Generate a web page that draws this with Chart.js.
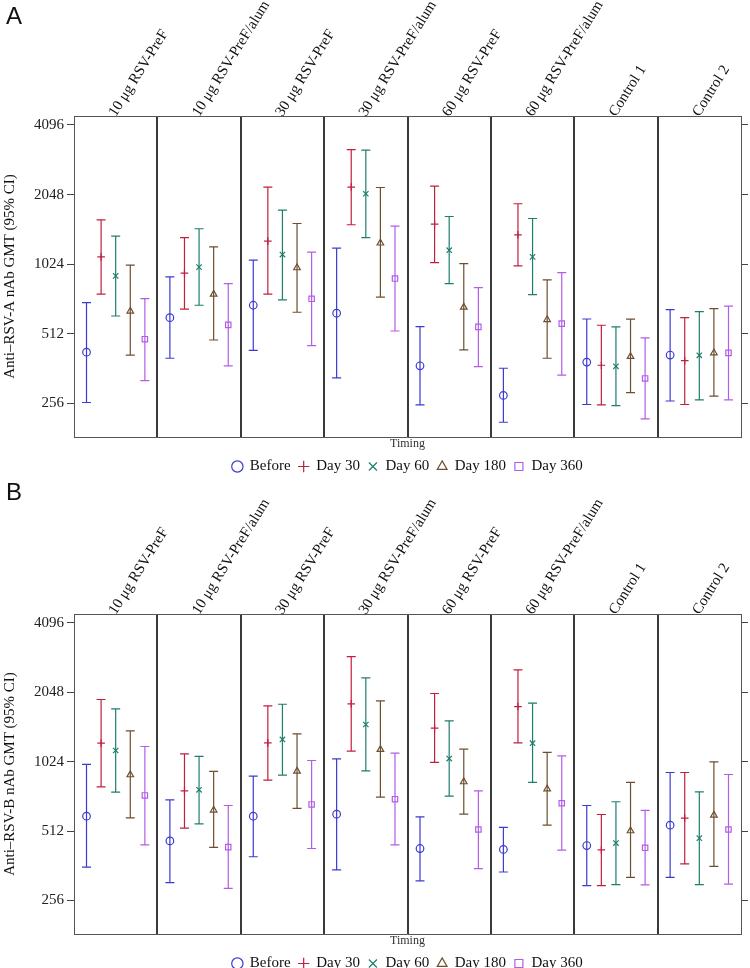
<!DOCTYPE html>
<html>
<head>
<meta charset="utf-8">
<script src="https://cdn.jsdelivr.net/npm/chart.js@4"></script>
<style>
  html, body { margin: 0; padding: 0; background: #fff; overflow: hidden; }
  .panel { position: absolute; left: 0; width: 750px; }
  .tag { position: absolute; left: 6px; font: 24px "Liberation Sans", Arial, sans-serif; color: #111; }
</style>
</head>
<body>
<div class="panel" style="top:0"><canvas id="chartA" width="750" height="484"></canvas></div>
<div class="panel" style="top:480px"><canvas id="chartB" width="750" height="501"></canvas></div>
<div class="tag" style="top:2px">A</div>
<div class="tag" style="top:478px">B</div>
<script>
const groups = ['10 μg RSV-PreF', '10 μg RSV-PreF/alum', '30 μg RSV-PreF', '30 μg RSV-PreF/alum',
                '60 μg RSV-PreF', '60 μg RSV-PreF/alum', 'Control 1', 'Control 2'];
const timepoints = ['Before', 'Day 30', 'Day 60', 'Day 180', 'Day 360'];
const tickValues = [256, 512, 1024, 2048, 4096];

// rows follow timepoints, columns follow groups
const gmtA = [
  [426, 601, 680, 628, 372, 277, 386, 414],
  [1101, 936, 1288, 2207, 1526, 1372, 374, 392],
  [911, 994, 1127, 2065, 1177, 1101, 370, 413],
  [641, 759, 987, 1263, 667, 589, 408, 423],
  [485, 559, 725, 887, 548, 566, 328, 423]
];
const loA = [
  [258, 401, 434, 330, 252, 212, 253, 262],
  [759, 654, 759, 1516, 1040, 1007, 252, 253],
  [611, 680, 717, 1335, 844, 756, 250, 265],
  [414, 481, 634, 737, 436, 401, 285, 275],
  [321, 372, 455, 526, 369, 339, 219, 265]
];
const hiA = [
  [698, 902, 1066, 1201, 550, 363, 593, 651],
  [1592, 1335, 2207, 3202, 2229, 1869, 557, 601],
  [1354, 1457, 1754, 3192, 1646, 1614, 548, 638],
  [1014, 1217, 1535, 2198, 1030, 875, 592, 658],
  [727, 844, 1154, 1496, 811, 942, 491, 674]
];
const gmtB = [
  [594, 464, 594, 606, 430, 426, 443, 543],
  [1232, 765, 1236, 1824, 1431, 1777, 424, 583],
  [1145, 773, 1279, 1485, 1057, 1232, 454, 477],
  [898, 631, 931, 1157, 837, 780, 513, 600],
  [731, 436, 668, 704, 520, 676, 433, 520]
];
const loB = [
  [357, 306, 396, 347, 311, 340, 297, 322],
  [796, 527, 851, 1137, 1016, 1236, 297, 369],
  [755, 550, 895, 934, 726, 832, 300, 300],
  [584, 435, 642, 718, 606, 543, 322, 360],
  [446, 289, 430, 446, 352, 423, 299, 301]
];
const hiB = [
  [996, 699, 886, 1053, 590, 531, 661, 919],
  [1906, 1107, 1788, 2928, 2024, 2562, 604, 919],
  [1735, 1079, 1818, 2364, 1539, 1837, 686, 757],
  [1393, 929, 1352, 1879, 1160, 1123, 832, 1022],
  [1192, 661, 1036, 1115, 765, 1085, 629, 901]
];

const SERIF = '"Liberation Serif", "Times New Roman", serif';
const colors = ['#3b3bd1', '#c21f3f', '#1f7d6b', '#6d4f2f', '#b35de6'];
const markers = ['circle', 'cross', 'crossRot', 'triangle', 'rect'];

// vertical 95% CI bars with caps
const errorBars = {
  id: 'errorBars',
  beforeDatasetsDraw(chart) {
    const { ctx, chartArea, scales: { x, y } } = chart;
    ctx.save();
    ctx.beginPath();
    ctx.rect(chartArea.left, chartArea.top, chartArea.width, chartArea.height);
    ctx.clip();
    chart.data.datasets.forEach((ds, i) => {
      ctx.strokeStyle = ds.borderColor;
      ctx.lineWidth = 1.2;
      ds.data.forEach((pt, j) => {
        const px = x.getPixelForValue(pt.x);
        const top = y.getPixelForValue(ds.hi[j]);
        const bot = y.getPixelForValue(ds.lo[j]);
        ctx.beginPath();
        ctx.moveTo(px, top); ctx.lineTo(px, bot);
        ctx.moveTo(px - 4.5, top); ctx.lineTo(px + 4.5, top);
        ctx.moveTo(px - 4.5, bot); ctx.lineTo(px + 4.5, bot);
        ctx.stroke();
      });
    });
    ctx.restore();
  }
};

function makeChart(id, yTitle, gmt, lo, hi, topH) {
  const datasets = timepoints.map((name, t) => ({
    label: name,
    data: gmt[t].map((v, g) => ({ x: g + 0.15 + 0.175 * t, y: v })),
    lo: lo[t],
    hi: hi[t],
    pointStyle: markers[t],
    borderColor: colors[t],
    backgroundColor: 'rgba(0,0,0,0)',
    pointRadius: 3.8,
    pointHoverRadius: 3.8,
    pointBorderWidth: 1.2,
    borderWidth: 1.2
  }));

  return new Chart(document.getElementById(id), {
    type: 'scatter',
    data: { datasets: datasets },
    plugins: [errorBars],
    options: {
      responsive: false,
      animation: false,
      events: [],
      layout: { padding: 0 },
      plugins: {
        tooltip: { enabled: false },
        legend: {
          position: 'bottom',
          fullSize: false,
          labels: {
            usePointStyle: true,
            boxWidth: 10,
            boxHeight: 8,
            padding: 8,
            color: '#111',
            font: { family: SERIF, size: 15 }
          }
        }
      },
      scales: {
        x: {
          type: 'linear',
          position: 'bottom',
          min: 0,
          max: groups.length,
          afterBuildTicks: s => { s.ticks = groups.concat(['']).map((g, i) => ({ value: i })); },
          afterFit: s => { s.height = 14; },
          ticks: { display: false },
          grid: {
            color: '#3a3a3a',
            drawTicks: false,
            lineWidth: c => (c.tick && c.tick.value > 0 && c.tick.value < groups.length) ? 2 : 0
          },
          border: { color: '#555', width: 1 },
          title: { display: true, text: 'Timing', color: '#333', font: { family: SERIF, size: 12 }, padding: 0 }
        },
        xTop: {
          type: 'category',
          position: 'top',
          labels: groups,
          offset: true,
          afterFit: s => { s.height = topH; },
          ticks: {
            autoSkip: false,
            minRotation: 58,
            maxRotation: 58,
            padding: -4,
            labelOffset: 12,
            color: '#111',
            font: { family: SERIF, size: 15 }
          },
          grid: { drawOnChartArea: false, drawTicks: false },
          border: { color: '#555', width: 1 }
        },
        y: {
          type: 'logarithmic',
          position: 'left',
          min: 183,
          max: 4480,
          afterBuildTicks: s => { s.ticks = tickValues.map(v => ({ value: v })); },
          afterFit: s => { s.width = 74; },
          ticks: { callback: v => String(v), color: '#222', padding: 3, font: { family: SERIF, size: 15 } },
          grid: { drawOnChartArea: false, tickLength: 7, color: '#444' },
          border: { color: '#555', width: 1 },
          title: { display: true, text: yTitle, color: '#111', padding: { top: 1, bottom: 0 }, font: { family: SERIF, size: 15 } }
        },
        y2: {
          type: 'logarithmic',
          position: 'right',
          min: 183,
          max: 4480,
          afterBuildTicks: s => { s.ticks = tickValues.map(v => ({ value: v })); },
          afterFit: s => { s.width = 9; },
          ticks: { display: false },
          grid: { drawOnChartArea: false, tickLength: 7, color: '#444' },
          border: { color: '#555', width: 1 }
        }
      }
    }
  });
}

makeChart('chartA', 'Anti–RSV-A nAb GMT (95% CI)', gmtA, loA, hiA, 116);
makeChart('chartB', 'Anti–RSV-B nAb GMT (95% CI)', gmtB, loB, hiB, 134);
</script>
</body>
</html>
